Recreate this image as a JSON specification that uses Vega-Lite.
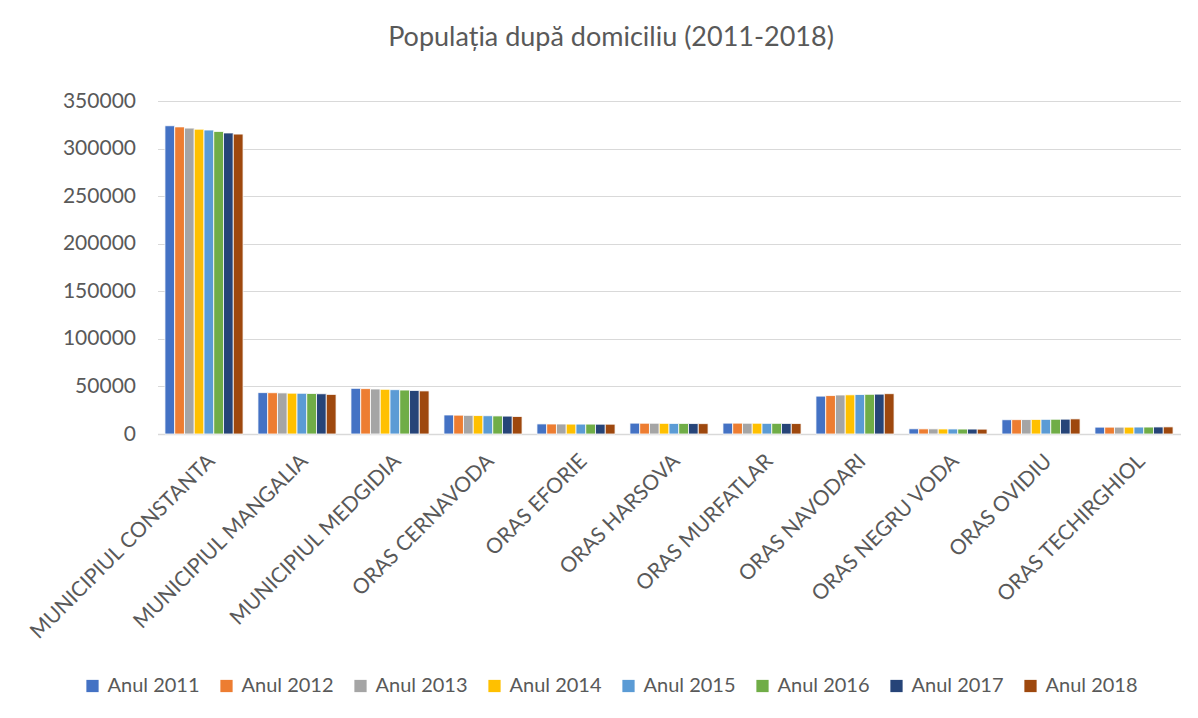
{
  "$schema": "https://vega.github.io/schema/vega-lite/v6.json",
  "width": 1023,
  "height": 333,
  "autosize": {"type": "none"},
  "padding": {"left": 157.5, "top": 101, "right": 17.5, "bottom": 284},
  "background": "white",
  "config": {
    "font": "Lato",
    "view": {"stroke": null},
    "axis": {"labelFont": "Lato", "labelColor": "#595959", "labelFontSize": 21}
  },
  "title": {
    "text": "Populația după domiciliu (2011-2018)",
    "fontSize": 27,
    "fontWeight": "normal",
    "color": "#595959",
    "font": "Lato",
    "anchor": "middle",
    "dx": -58,
    "offset": 38
  },
  "data": {
    "values": [
      {"Localitate": "MUNICIPIUL CONSTANTA", "An": "Anul 2011", "Populatie": 324000},
      {"Localitate": "MUNICIPIUL CONSTANTA", "An": "Anul 2012", "Populatie": 322800},
      {"Localitate": "MUNICIPIUL CONSTANTA", "An": "Anul 2013", "Populatie": 321500},
      {"Localitate": "MUNICIPIUL CONSTANTA", "An": "Anul 2014", "Populatie": 320400},
      {"Localitate": "MUNICIPIUL CONSTANTA", "An": "Anul 2015", "Populatie": 319500},
      {"Localitate": "MUNICIPIUL CONSTANTA", "An": "Anul 2016", "Populatie": 318000},
      {"Localitate": "MUNICIPIUL CONSTANTA", "An": "Anul 2017", "Populatie": 316400},
      {"Localitate": "MUNICIPIUL CONSTANTA", "An": "Anul 2018", "Populatie": 315200},
      {"Localitate": "MUNICIPIUL MANGALIA", "An": "Anul 2011", "Populatie": 43500},
      {"Localitate": "MUNICIPIUL MANGALIA", "An": "Anul 2012", "Populatie": 43400},
      {"Localitate": "MUNICIPIUL MANGALIA", "An": "Anul 2013", "Populatie": 43200},
      {"Localitate": "MUNICIPIUL MANGALIA", "An": "Anul 2014", "Populatie": 42900},
      {"Localitate": "MUNICIPIUL MANGALIA", "An": "Anul 2015", "Populatie": 42800},
      {"Localitate": "MUNICIPIUL MANGALIA", "An": "Anul 2016", "Populatie": 42600},
      {"Localitate": "MUNICIPIUL MANGALIA", "An": "Anul 2017", "Populatie": 42300},
      {"Localitate": "MUNICIPIUL MANGALIA", "An": "Anul 2018", "Populatie": 41600},
      {"Localitate": "MUNICIPIUL MEDGIDIA", "An": "Anul 2011", "Populatie": 48000},
      {"Localitate": "MUNICIPIUL MEDGIDIA", "An": "Anul 2012", "Populatie": 47700},
      {"Localitate": "MUNICIPIUL MEDGIDIA", "An": "Anul 2013", "Populatie": 47300},
      {"Localitate": "MUNICIPIUL MEDGIDIA", "An": "Anul 2014", "Populatie": 47000},
      {"Localitate": "MUNICIPIUL MEDGIDIA", "An": "Anul 2015", "Populatie": 46600},
      {"Localitate": "MUNICIPIUL MEDGIDIA", "An": "Anul 2016", "Populatie": 46200},
      {"Localitate": "MUNICIPIUL MEDGIDIA", "An": "Anul 2017", "Populatie": 45800},
      {"Localitate": "MUNICIPIUL MEDGIDIA", "An": "Anul 2018", "Populatie": 45300},
      {"Localitate": "ORAS CERNAVODA", "An": "Anul 2011", "Populatie": 20000},
      {"Localitate": "ORAS CERNAVODA", "An": "Anul 2012", "Populatie": 19800},
      {"Localitate": "ORAS CERNAVODA", "An": "Anul 2013", "Populatie": 19600},
      {"Localitate": "ORAS CERNAVODA", "An": "Anul 2014", "Populatie": 19400},
      {"Localitate": "ORAS CERNAVODA", "An": "Anul 2015", "Populatie": 19200},
      {"Localitate": "ORAS CERNAVODA", "An": "Anul 2016", "Populatie": 19000},
      {"Localitate": "ORAS CERNAVODA", "An": "Anul 2017", "Populatie": 18800},
      {"Localitate": "ORAS CERNAVODA", "An": "Anul 2018", "Populatie": 18400},
      {"Localitate": "ORAS EFORIE", "An": "Anul 2011", "Populatie": 10600},
      {"Localitate": "ORAS EFORIE", "An": "Anul 2012", "Populatie": 10500},
      {"Localitate": "ORAS EFORIE", "An": "Anul 2013", "Populatie": 10500},
      {"Localitate": "ORAS EFORIE", "An": "Anul 2014", "Populatie": 10400},
      {"Localitate": "ORAS EFORIE", "An": "Anul 2015", "Populatie": 10400},
      {"Localitate": "ORAS EFORIE", "An": "Anul 2016", "Populatie": 10400},
      {"Localitate": "ORAS EFORIE", "An": "Anul 2017", "Populatie": 10300},
      {"Localitate": "ORAS EFORIE", "An": "Anul 2018", "Populatie": 10300},
      {"Localitate": "ORAS HARSOVA", "An": "Anul 2011", "Populatie": 11400},
      {"Localitate": "ORAS HARSOVA", "An": "Anul 2012", "Populatie": 11300},
      {"Localitate": "ORAS HARSOVA", "An": "Anul 2013", "Populatie": 11300},
      {"Localitate": "ORAS HARSOVA", "An": "Anul 2014", "Populatie": 11200},
      {"Localitate": "ORAS HARSOVA", "An": "Anul 2015", "Populatie": 11100},
      {"Localitate": "ORAS HARSOVA", "An": "Anul 2016", "Populatie": 11100},
      {"Localitate": "ORAS HARSOVA", "An": "Anul 2017", "Populatie": 11000},
      {"Localitate": "ORAS HARSOVA", "An": "Anul 2018", "Populatie": 10900},
      {"Localitate": "ORAS MURFATLAR", "An": "Anul 2011", "Populatie": 11400},
      {"Localitate": "ORAS MURFATLAR", "An": "Anul 2012", "Populatie": 11400},
      {"Localitate": "ORAS MURFATLAR", "An": "Anul 2013", "Populatie": 11300},
      {"Localitate": "ORAS MURFATLAR", "An": "Anul 2014", "Populatie": 11300},
      {"Localitate": "ORAS MURFATLAR", "An": "Anul 2015", "Populatie": 11200},
      {"Localitate": "ORAS MURFATLAR", "An": "Anul 2016", "Populatie": 11200},
      {"Localitate": "ORAS MURFATLAR", "An": "Anul 2017", "Populatie": 11100},
      {"Localitate": "ORAS MURFATLAR", "An": "Anul 2018", "Populatie": 11000},
      {"Localitate": "ORAS NAVODARI", "An": "Anul 2011", "Populatie": 39800},
      {"Localitate": "ORAS NAVODARI", "An": "Anul 2012", "Populatie": 40400},
      {"Localitate": "ORAS NAVODARI", "An": "Anul 2013", "Populatie": 41000},
      {"Localitate": "ORAS NAVODARI", "An": "Anul 2014", "Populatie": 41200},
      {"Localitate": "ORAS NAVODARI", "An": "Anul 2015", "Populatie": 41500},
      {"Localitate": "ORAS NAVODARI", "An": "Anul 2016", "Populatie": 41700},
      {"Localitate": "ORAS NAVODARI", "An": "Anul 2017", "Populatie": 41900},
      {"Localitate": "ORAS NAVODARI", "An": "Anul 2018", "Populatie": 42400},
      {"Localitate": "ORAS NEGRU VODA", "An": "Anul 2011", "Populatie": 5500},
      {"Localitate": "ORAS NEGRU VODA", "An": "Anul 2012", "Populatie": 5400},
      {"Localitate": "ORAS NEGRU VODA", "An": "Anul 2013", "Populatie": 5400},
      {"Localitate": "ORAS NEGRU VODA", "An": "Anul 2014", "Populatie": 5300},
      {"Localitate": "ORAS NEGRU VODA", "An": "Anul 2015", "Populatie": 5300},
      {"Localitate": "ORAS NEGRU VODA", "An": "Anul 2016", "Populatie": 5200},
      {"Localitate": "ORAS NEGRU VODA", "An": "Anul 2017", "Populatie": 5200},
      {"Localitate": "ORAS NEGRU VODA", "An": "Anul 2018", "Populatie": 5100},
      {"Localitate": "ORAS OVIDIU", "An": "Anul 2011", "Populatie": 15000},
      {"Localitate": "ORAS OVIDIU", "An": "Anul 2012", "Populatie": 15100},
      {"Localitate": "ORAS OVIDIU", "An": "Anul 2013", "Populatie": 15200},
      {"Localitate": "ORAS OVIDIU", "An": "Anul 2014", "Populatie": 15300},
      {"Localitate": "ORAS OVIDIU", "An": "Anul 2015", "Populatie": 15400},
      {"Localitate": "ORAS OVIDIU", "An": "Anul 2016", "Populatie": 15500},
      {"Localitate": "ORAS OVIDIU", "An": "Anul 2017", "Populatie": 15600},
      {"Localitate": "ORAS OVIDIU", "An": "Anul 2018", "Populatie": 15900},
      {"Localitate": "ORAS TECHIRGHIOL", "An": "Anul 2011", "Populatie": 7200},
      {"Localitate": "ORAS TECHIRGHIOL", "An": "Anul 2012", "Populatie": 7200},
      {"Localitate": "ORAS TECHIRGHIOL", "An": "Anul 2013", "Populatie": 7200},
      {"Localitate": "ORAS TECHIRGHIOL", "An": "Anul 2014", "Populatie": 7200},
      {"Localitate": "ORAS TECHIRGHIOL", "An": "Anul 2015", "Populatie": 7300},
      {"Localitate": "ORAS TECHIRGHIOL", "An": "Anul 2016", "Populatie": 7300},
      {"Localitate": "ORAS TECHIRGHIOL", "An": "Anul 2017", "Populatie": 7400},
      {"Localitate": "ORAS TECHIRGHIOL", "An": "Anul 2018", "Populatie": 7500}
    ]
  },
  "mark": {"type": "bar", "stroke": "white", "strokeWidth": 0.8},
  "encoding": {
    "x": {
      "field": "Localitate",
      "type": "nominal",
      "sort": null,
      "title": null,
      "scale": {"paddingInner": 0.16, "paddingOuter": 0.08},
      "axis": {
        "labelAngle": -45,
        "labelLimit": 0,
        "ticks": false,
        "domainColor": "#d9d9d9",
        "domainWidth": 1.5,
        "labelPadding": 16
      }
    },
    "xOffset": {"field": "An", "type": "nominal", "sort": null},
    "y": {
      "field": "Populatie",
      "type": "quantitative",
      "title": null,
      "scale": {"domain": [0, 350000], "nice": false},
      "axis": {
        "values": [0, 50000, 100000, 150000, 200000, 250000, 300000, 350000],
        "format": "d",
        "domain": false,
        "ticks": false,
        "gridColor": "#d9d9d9",
        "gridWidth": 1.2,
        "labelPadding": 22
      }
    },
    "color": {
      "field": "An",
      "type": "nominal",
      "sort": null,
      "title": null,
      "scale": {
        "range": ["#4472C4", "#ED7D31", "#A5A5A5", "#FFC000", "#5B9BD5", "#70AD47", "#264478", "#9E480E"]
      },
      "legend": {
        "orient": "none",
        "direction": "horizontal",
        "columns": 8,
        "legendX": -75,
        "legendY": 575,
        "symbolType": "square",
        "symbolSize": 150,
        "symbolStrokeWidth": 0,
        "labelFont": "Lato",
        "labelFontSize": 20,
        "labelColor": "#595959",
        "labelOffset": 5,
        "columnPadding": 16
      }
    }
  }
}
